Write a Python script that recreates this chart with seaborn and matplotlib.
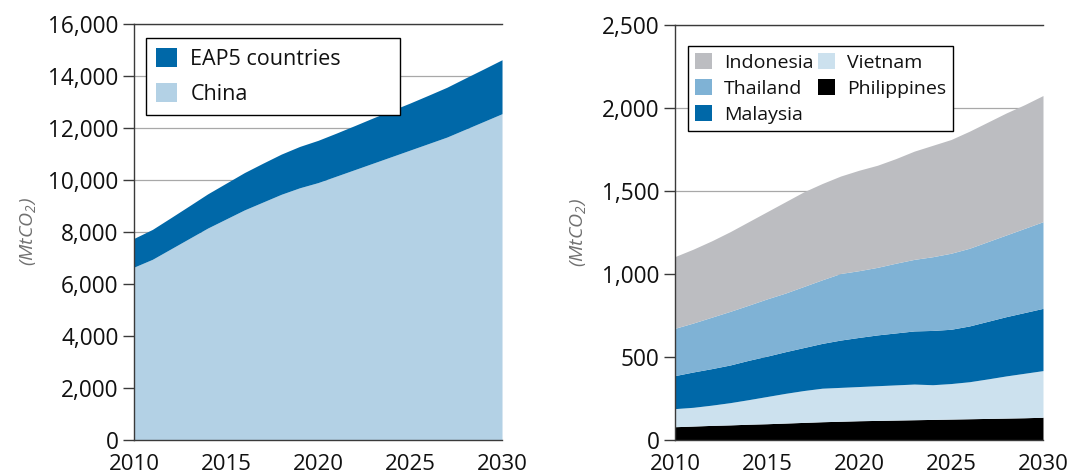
import numpy as np
import matplotlib
matplotlib.use("Agg")
import matplotlib.pyplot as plt
from matplotlib.ticker import FuncFormatter
import seaborn as sns

# --- data ---
years = list(range(2010, 2031))

china = [6650, 6950, 7350, 7750, 8150, 8500, 8850, 9150, 9450, 9700, 9900,
         10150, 10400, 10650, 10900, 11150, 11400, 11650, 11950, 12250, 12550]

philippines = [80, 84, 88, 91, 95, 98, 102, 106, 110, 113, 116,
               118, 120, 122, 124, 126, 128, 130, 132, 134, 137]
vietnam = [109, 113, 122, 134, 148, 164, 179, 192, 202, 204, 206,
           209, 212, 215, 209, 214, 223, 238, 254, 268, 281]
malaysia = [199, 213, 220, 227, 237, 243, 251, 259, 270, 285, 296,
            306, 313, 320, 327, 327, 336, 347, 357, 366, 375]
thailand = [285, 295, 310, 323, 332, 345, 353, 368, 383, 401, 402,
            407, 420, 431, 444, 458, 468, 480, 492, 507, 522]
indonesia = [432, 445, 460, 480, 503, 525, 550, 570, 580, 587, 605,
             615, 630, 652, 671, 685, 705, 720, 735, 745, 760]

# EAP5 = sum of the five countries in the right panel
eap5 = list(np.array(philippines) + np.array(vietnam) + np.array(malaysia)
            + np.array(thailand) + np.array(indonesia))

sns.set_theme(style="white")
plt.rcParams['font.family'] = ['Open Sans', 'DejaVu Sans']
plt.rcParams['mathtext.fontset'] = 'custom'
plt.rcParams['mathtext.it'] = 'Open Sans:italic'
plt.rcParams['mathtext.rm'] = 'Open Sans:italic'

col_dark = "#0068a8"
col_light = "#b3d1e5"
col_grey = "#bcbdc1"
col_mid = "#7fb2d5"
col_pale = "#cce1ee"

fig = plt.figure(figsize=(10.67, 4.75), dpi=100)
ax1 = fig.add_axes([0.1256, 0.0737, 0.3449, 0.8758])
ax2 = fig.add_axes([0.6326, 0.0737, 0.3449, 0.8737])

comma = FuncFormatter(lambda v, p: f"{int(v):,}")


def style_axes(ax, ymax, ystep, label_x):
    ax.set_xlim(2010, 2030)
    ax.set_ylim(0, ymax)
    ax.set_xticks(range(2010, 2031, 5))
    ax.set_yticks(np.arange(0, ymax + 1, ystep))
    ax.yaxis.set_major_formatter(comma)
    ax.set_axisbelow(True)
    ax.yaxis.grid(True, color="#a8a8a8", linewidth=0.9)
    ax.xaxis.grid(False)
    for s in ["left", "bottom", "top"]:
        ax.spines[s].set_visible(True)
        ax.spines[s].set_color("#3a3a3a")
        ax.spines[s].set_linewidth(1.0)
    ax.spines["right"].set_visible(False)
    ax.tick_params(axis="y", length=8, width=1.0, color="#3a3a3a",
                   labelsize=16.3, labelcolor="#111111", pad=3, left=True)
    ax.tick_params(axis="x", length=0, labelsize=16, labelcolor="#111111",
                   pad=10)
    ax.set_ylabel("(MtCO$_2$)", fontsize=14, color="#707070",
                  fontstyle="italic")
    ax.yaxis.set_label_coords(label_x, 0.5)


# --- left panel ---
ax1.stackplot(years, china, eap5, colors=[col_light, col_dark],
              labels=["China", "EAP5 countries"], linewidth=0)
style_axes(ax1, 16000, 2000, -0.261)
h, l = ax1.get_legend_handles_labels()
leg1 = ax1.legend(h[::-1], l[::-1], loc="upper left",
                  bbox_to_anchor=(0.033, 0.0, 0.69, 0.966), mode="expand",
                  borderaxespad=0, fontsize=15.5, frameon=True, fancybox=False,
                  edgecolor="black", framealpha=1, handlelength=1.0,
                  handleheight=1.0, handletextpad=0.6, labelspacing=0.62,
                  borderpad=0.45)
leg1.get_frame().set_linewidth(1.0)
for t in leg1.get_texts():
    t.set_color("#111111")

# --- right panel ---
ax2.stackplot(years, philippines, vietnam, malaysia, thailand, indonesia,
              colors=["black", col_pale, col_dark, col_mid, col_grey],
              labels=["Philippines", "Vietnam", "Malaysia", "Thailand", "Indonesia"],
              linewidth=0)
style_axes(ax2, 2500, 500, -0.236)
h, l = ax2.get_legend_handles_labels()
order = [4, 3, 2, 1, 0]
leg2 = ax2.legend([h[i] for i in order], [l[i] for i in order], ncol=2,
                  loc="upper left", bbox_to_anchor=(0.035, 0.0, 0.72, 0.949),
                  mode="expand", borderaxespad=0, fontsize=14, frameon=True,
                  fancybox=False, edgecolor="black", framealpha=1,
                  handlelength=0.9, handleheight=0.9, handletextpad=0.6,
                  labelspacing=0.38, columnspacing=0.6, borderpad=0.35)
leg2.get_frame().set_linewidth(1.0)
for t in leg2.get_texts():
    t.set_color("#111111")

plt.savefig("out.png", dpi=100)
